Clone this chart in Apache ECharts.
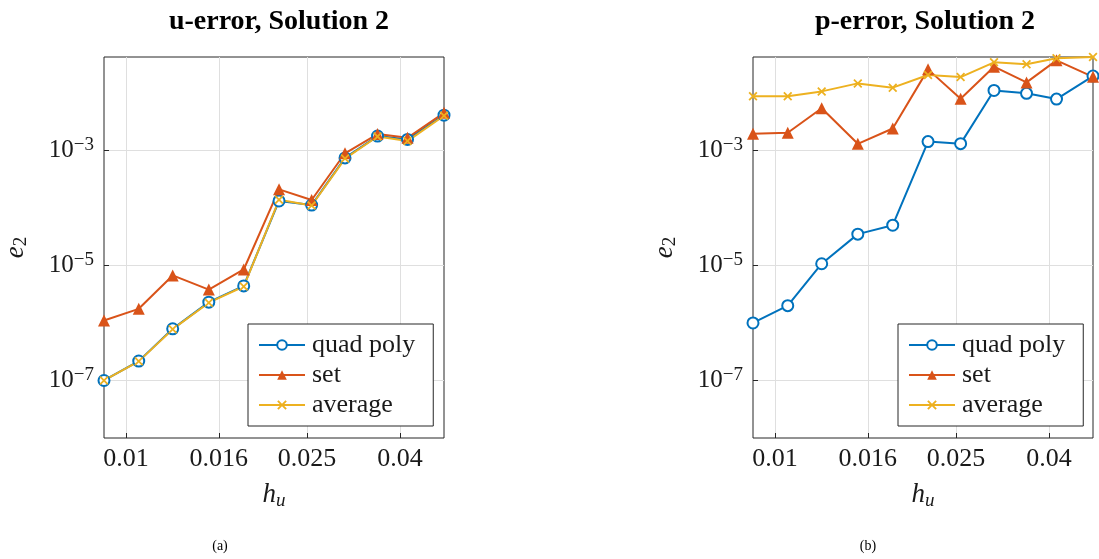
<!DOCTYPE html>
<html>
<head>
<meta charset="utf-8">
<script src="https://cdn.jsdelivr.net/npm/echarts@6/dist/echarts.min.js"></script>
<style>
  html, body { margin: 0; padding: 0; background: #fff; }
  #main { width: 1099px; height: 559px; }
</style>
</head>
<body>
<div id="main"></div>
<script>
// mesh sizes h_u (shared by both panels)
var h_values = [0.00895, 0.01067, 0.01267, 0.01521, 0.01815, 0.0217, 0.02559, 0.0303, 0.03572, 0.04157, 0.05];

// u-error, Solution 2
var u_quad = [1.0e-7, 2.17e-7, 7.9e-7, 2.3e-6, 4.4e-6, 1.32e-4, 1.12e-4, 7.4e-4, 1.77e-3, 1.55e-3, 4.1e-3];
var u_set = [1.1e-6, 1.76e-6, 6.7e-6, 3.8e-6, 8.5e-6, 2.1e-4, 1.37e-4, 8.9e-4, 1.92e-3, 1.66e-3, 4.5e-3];
var u_avg = [1.0e-7, 2.15e-7, 7.8e-7, 2.25e-6, 4.3e-6, 1.38e-4, 1.1e-4, 7.2e-4, 1.74e-3, 1.45e-3, 4.0e-3];

// p-error, Solution 2
var p_quad = [1.0e-6, 2.0e-6, 1.07e-5, 3.5e-5, 5.0e-5, 1.42e-3, 1.31e-3, 1.1e-2, 9.8e-3, 7.8e-3, 1.96e-2];
var p_set = [1.95e-3, 2.03e-3, 5.4e-3, 1.3e-3, 2.4e-3, 2.56e-2, 7.9e-3, 2.85e-2, 1.52e-2, 3.67e-2, 1.9e-2];
var p_avg = [8.7e-3, 8.7e-3, 1.06e-2, 1.46e-2, 1.23e-2, 2.04e-2, 1.88e-2, 3.39e-2, 3.13e-2, 3.98e-2, 4.2e-2];

var x_ticks = [0.01, 0.016, 0.025, 0.04];
var y_ticks = [1e-7, 1e-5, 1e-3];
var series_names = ['quad poly', 'set', 'average'];
var colors = ['#0072BD', '#D95319', '#EDB120'];

var FONT = '"Liberation Serif", "DejaVu Serif", serif';
var xMark = 'path://M0,1.4 L1.4,0 L5,3.6 L8.6,0 L10,1.4 L6.4,5 L10,8.6 L8.6,10 L5,6.4 L1.4,10 L0,8.6 L3.6,5 Z';

function pairs(ys) {
    return h_values.map(function (h, i) { return [h, ys[i]]; });
}

var dom = document.getElementById('main');
var chart = echarts.init(dom);

function makeX(idx) {
    return {
        type: 'log',
        gridIndex: idx,
        min: 0.00895,
        max: 0.05,
        name: '{i|h}{s|u}',
        nameLocation: 'middle',
        nameGap: 42,
        nameTextStyle: {
            rich: {
                i: {fontFamily: FONT, fontStyle: 'italic', fontSize: 27, color: '#1a1a1a', lineHeight: 30},
                s: {fontFamily: FONT, fontStyle: 'italic', fontSize: 19, color: '#1a1a1a', verticalAlign: 'bottom', lineHeight: 22}
            }
        },
        axisLine: {show: false},
        axisTick: {show: true, inside: true, length: 5, customValues: x_ticks, lineStyle: {color: '#262626'}},
        axisLabel: {
            customValues: x_ticks,
            margin: 8,
            fontFamily: FONT,
            fontSize: 26,
            color: '#1a1a1a',
            formatter: function (v) { return String(+v.toPrecision(3)); }
        },
        splitLine: {show: true, lineStyle: {color: '#dfdfdf', width: 1}},
        minorTick: {show: false},
        minorSplitLine: {show: false}
    };
}

function makeY(idx) {
    return {
        type: 'log',
        gridIndex: idx,
        min: 1e-8,
        max: 0.042,
        name: '{i|e}{s|2}',
        nameLocation: 'middle',
        nameRotate: 90,
        nameGap: 73,
        nameTextStyle: {
            rich: {
                i: {fontFamily: FONT, fontStyle: 'italic', fontSize: 27, color: '#1a1a1a', lineHeight: 30},
                s: {fontFamily: FONT, fontSize: 19, color: '#1a1a1a', verticalAlign: 'bottom', lineHeight: 22}
            }
        },
        axisLine: {show: false},
        axisTick: {show: true, inside: true, length: 5, customValues: y_ticks, lineStyle: {color: '#262626'}},
        axisLabel: {
            customValues: y_ticks,
            margin: 10,
            formatter: function (v) {
                var e = Math.round(Math.log10(v));
                return '{b|10}{s|\u2212' + Math.abs(e) + '}';
            },
            rich: {
                b: {fontFamily: FONT, fontSize: 25, color: '#1a1a1a', lineHeight: 30},
                s: {fontFamily: FONT, fontSize: 19, color: '#1a1a1a', verticalAlign: 'top', lineHeight: 8}
            }
        },
        splitLine: {show: true, lineStyle: {color: '#dfdfdf', width: 1}},
        minorTick: {show: false},
        minorSplitLine: {show: false}
    };
}

function makeSeries(name, ys, k, idx) {
    var s = {
        name: name,
        type: 'line',
        xAxisIndex: idx,
        yAxisIndex: idx,
        data: pairs(ys),
        color: colors[k],
        lineStyle: {width: 2, color: colors[k]},
        showAllSymbol: true,
        animation: false
    };
    if (k === 0) {
        s.symbol = 'emptyCircle';
        s.symbolSize = 11;
        s.itemStyle = {color: colors[k], borderColor: colors[k], borderWidth: 2};
    } else if (k === 1) {
        s.symbol = 'triangle';
        s.symbolSize = 12;
        s.itemStyle = {color: colors[k]};
    } else {
        s.symbol = xMark;
        s.symbolSize = 9;
        s.itemStyle = {color: colors[k]};
    }
    return s;
}

function makeLegend(left) {
    return {
        orient: 'vertical',
        left: left,
        top: 324,
        data: series_names,
        itemWidth: 46,
        itemHeight: 12,
        itemGap: 4,
        padding: [8, 18, 8, 10],
        borderColor: '#262626',
        borderWidth: 1,
        borderRadius: 0,
        backgroundColor: '#fff',
        selectedMode: false,
        textStyle: {fontFamily: FONT, fontSize: 26, color: '#1a1a1a', padding: [0, 0, 0, 2]}
    };
}

var option = {
    backgroundColor: '#fff',
    animation: false,
    grid: [
        {left: 104, right: 655, top: 57, bottom: 121, containLabel: false, outerBoundsMode: 'none',
            show: true, borderColor: '#262626', borderWidth: 1, backgroundColor: 'transparent'},
        {left: 753, right: 6, top: 57, bottom: 121, containLabel: false, outerBoundsMode: 'none',
            show: true, borderColor: '#262626', borderWidth: 1, backgroundColor: 'transparent'}
    ],
    xAxis: [makeX(0), makeX(1)],
    yAxis: [makeY(0), makeY(1)],
    legend: [makeLegend(248), makeLegend(898)],
    series: [
        makeSeries('quad poly', u_quad, 0, 0),
        makeSeries('set', u_set, 1, 0),
        makeSeries('average', u_avg, 2, 0),
        makeSeries('quad poly', p_quad, 0, 1),
        makeSeries('set', p_set, 1, 1),
        makeSeries('average', p_avg, 2, 1)
    ],
    graphic: [
        {type: 'text', x: 279, y: 22, style: {text: 'u-error, Solution 2', font: 'bold 28px ' + FONT, fill: '#000', align: 'center', verticalAlign: 'middle'}},
        {type: 'text', x: 925, y: 22, style: {text: 'p-error, Solution 2', font: 'bold 28px ' + FONT, fill: '#000', align: 'center', verticalAlign: 'middle'}},
        {type: 'text', x: 220, y: 546, style: {text: '(a)', font: '14px ' + FONT, fill: '#000', align: 'center', verticalAlign: 'middle'}},
        {type: 'text', x: 868, y: 546, style: {text: '(b)', font: '14px ' + FONT, fill: '#000', align: 'center', verticalAlign: 'middle'}}
    ]
};

chart.setOption(option);
</script>
</body>
</html>
